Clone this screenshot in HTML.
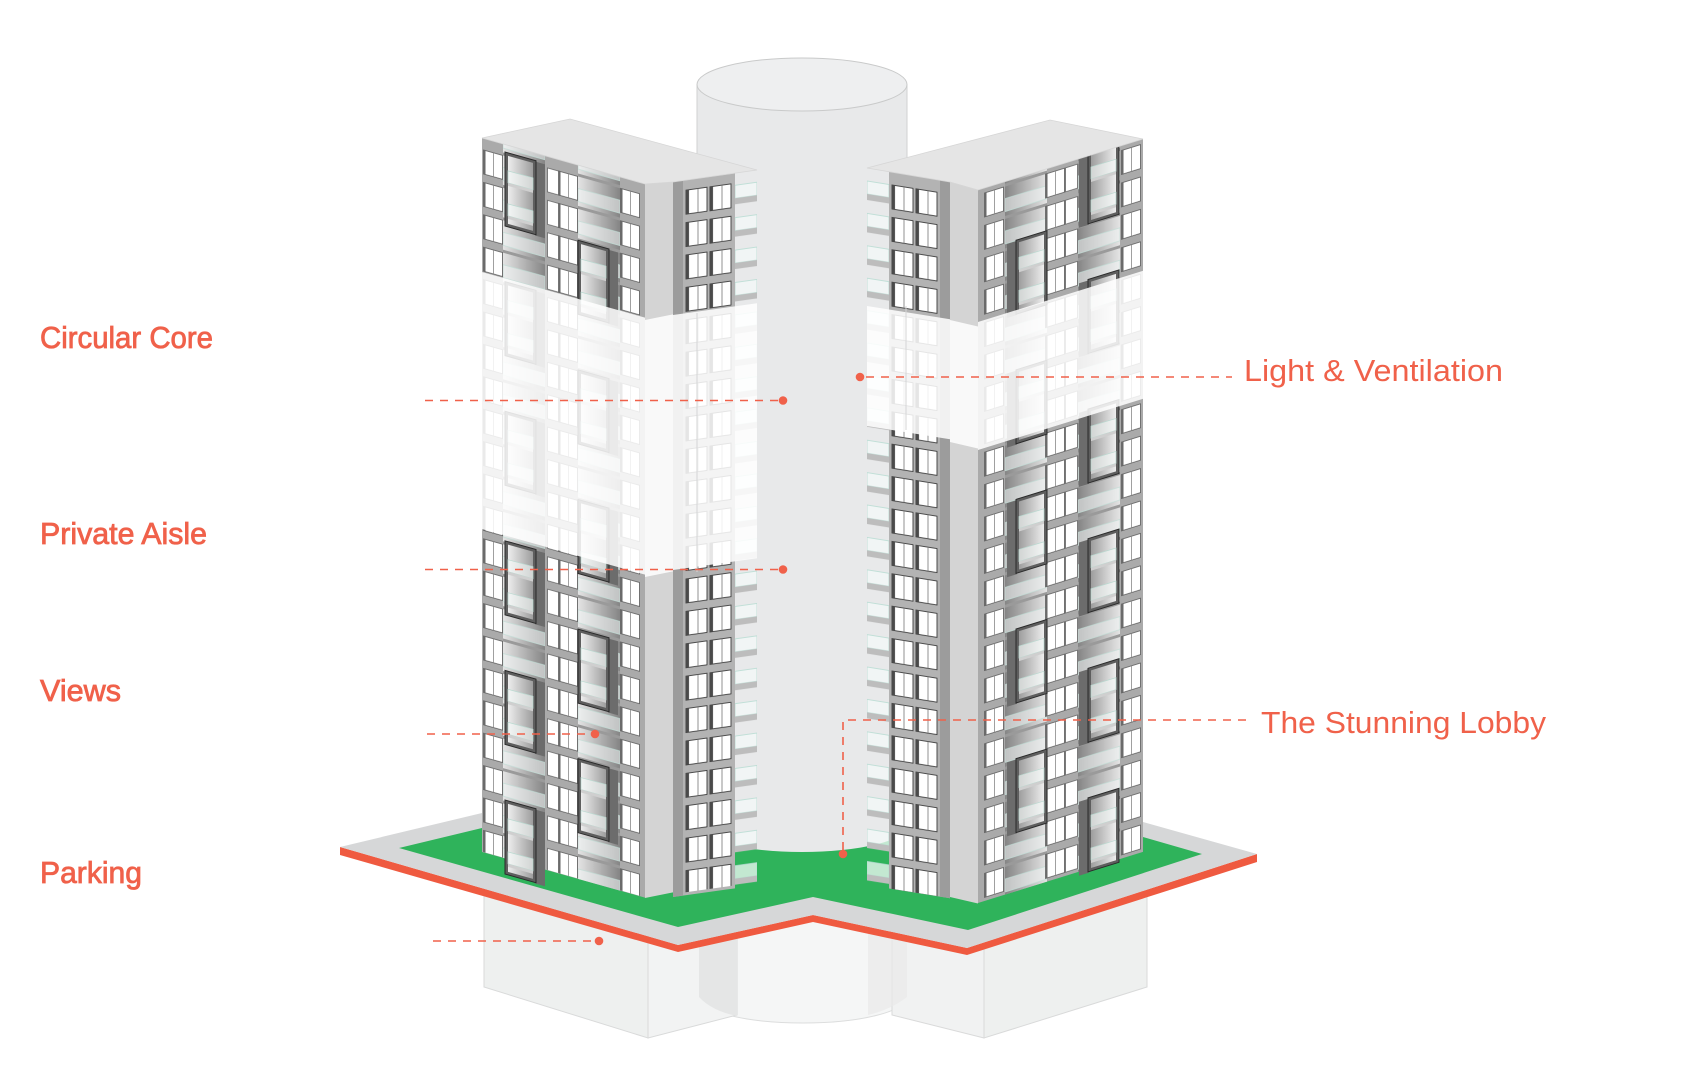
<!DOCTYPE html>
<html>
<head>
<meta charset="utf-8">
<style>
  html, body { margin: 0; padding: 0; background: #ffffff; }
  body { width: 1683px; height: 1080px; overflow: hidden; }
  svg { display: block; }
</style>
</head>
<body>
<svg xmlns="http://www.w3.org/2000/svg" width="1683" height="1080" viewBox="0 0 1683 1080">
  <defs>
    <linearGradient id="gRecL" x1="0" y1="0" x2="1" y2="0">
      <stop offset="0" stop-color="#e4e4e4"/><stop offset="1" stop-color="#858585"/>
    </linearGradient>
    <linearGradient id="gRecR" x1="0" y1="0" x2="1" y2="0">
      <stop offset="0" stop-color="#858585"/><stop offset="1" stop-color="#e4e4e4"/>
    </linearGradient>
    <linearGradient id="gBoxL" x1="0" y1="0" x2="1" y2="0">
      <stop offset="0" stop-color="#f2f2f2"/><stop offset="1" stop-color="#999999"/>
    </linearGradient>
    <linearGradient id="gBoxR" x1="0" y1="0" x2="1" y2="0">
      <stop offset="0" stop-color="#999999"/><stop offset="1" stop-color="#f2f2f2"/>
    </linearGradient>

    <pattern id="pW2" patternUnits="userSpaceOnUse" width="20" height="32.4">
      <rect x="0.5" y="3" width="19" height="24" fill="#ffffff" stroke="#5a5a5a" stroke-width="0.8"/>
      <rect x="0.5" y="3" width="2" height="24" fill="#6a6a6a"/>
      <line x1="10.5" y1="3" x2="10.5" y2="27" stroke="#8a8a8a" stroke-width="0.8"/>
    </pattern>
    <pattern id="pW1" patternUnits="userSpaceOnUse" width="13" height="32.4">
      <rect x="0.5" y="3" width="12" height="24" fill="#ffffff" stroke="#666666" stroke-width="0.8"/>
    </pattern>
    <pattern id="pWC" patternUnits="userSpaceOnUse" width="24" height="32.4">
      <rect x="1" y="3" width="21" height="24" fill="#ffffff" stroke="#3c3c3c" stroke-width="0.9"/>
      <rect x="1" y="3" width="3" height="24" fill="#4a4a4a"/>
      <line x1="13" y1="3" x2="13" y2="27" stroke="#777777" stroke-width="0.8"/>
    </pattern>
    <pattern id="pBal" patternUnits="userSpaceOnUse" width="22" height="32.4">
      <rect x="0" y="9" width="22" height="13" fill="#f4f9f8" fill-opacity="0.75" stroke="#b7dbd2" stroke-width="0.8"/>
      <rect x="0" y="22" width="22" height="6" fill="#bdbdbd"/>
    </pattern>
    <pattern id="pRecL" patternUnits="userSpaceOnUse" width="42" height="32.4">
      <rect width="42" height="32.4" fill="url(#gRecL)"/>
      <rect x="0" y="0" width="42" height="3" fill="#9a9a9a"/>
      <rect x="0" y="15" width="42" height="13" fill="#f1f6f5" fill-opacity="0.55" stroke="#c2ddd6" stroke-width="0.7"/>
    </pattern>
    <pattern id="pRecR" patternUnits="userSpaceOnUse" width="42" height="32.4">
      <rect width="42" height="32.4" fill="url(#gRecR)"/>
      <rect x="0" y="0" width="42" height="3" fill="#9a9a9a"/>
      <rect x="0" y="15" width="42" height="13" fill="#f1f6f5" fill-opacity="0.55" stroke="#c2ddd6" stroke-width="0.7"/>
    </pattern>

    <g id="boxL">
      <rect x="30" y="1" width="10" height="74" fill="#6c6c6c"/>
      <rect x="1.5" y="1.5" width="28" height="71" fill="url(#gBoxL)" stroke="#5e5e5e" stroke-width="3"/>
      <rect x="0" y="0" width="31" height="74" fill="none" stroke="#2a2a2a" stroke-width="1"/>
      <rect x="3" y="18" width="25" height="12" fill="#f5faf8" fill-opacity="0.6" stroke="#b9d9d0" stroke-width="0.7"/>
      <rect x="3" y="30" width="25" height="3" fill="#cfcfcf"/>
      <rect x="3" y="51" width="25" height="12" fill="#f5faf8" fill-opacity="0.6" stroke="#b9d9d0" stroke-width="0.7"/>
      <rect x="3" y="63" width="25" height="3" fill="#cfcfcf"/>
    </g>
    <g id="boxR">
      <rect x="0" y="1" width="10" height="74" fill="#6c6c6c"/>
      <rect x="10.5" y="1.5" width="28" height="71" fill="url(#gBoxR)" stroke="#5e5e5e" stroke-width="3"/>
      <rect x="9" y="0" width="31" height="74" fill="none" stroke="#2a2a2a" stroke-width="1"/>
      <rect x="12" y="18" width="25" height="12" fill="#f5faf8" fill-opacity="0.6" stroke="#b9d9d0" stroke-width="0.7"/>
      <rect x="12" y="30" width="25" height="3" fill="#cfcfcf"/>
      <rect x="12" y="51" width="25" height="12" fill="#f5faf8" fill-opacity="0.6" stroke="#b9d9d0" stroke-width="0.7"/>
      <rect x="12" y="63" width="25" height="3" fill="#cfcfcf"/>
    </g>
  </defs>

  <!-- ===== Lower cylinder (below platform) ===== -->
  <path d="M699,900 L699,997 A104,26 0 0 0 907,997 L907,900 Z" fill="#f5f6f6" stroke="#dcdddd" stroke-width="1"/>

  <!-- ===== Base blocks ===== -->
  <polygon points="484,870 648,918 648,1038 484,987" fill="#eef0ef" stroke="#d9dada" stroke-width="1"/>
  <polygon points="648,918 737,895 737,1015 648,1038" fill="#f2f3f3" stroke="#d9dada" stroke-width="1"/>
  <path d="M699,925 L699,997 Q712,1011 737,1016 L737,925 Z" fill="#e5e6e6"/>
  <polygon points="892,895 984,920 984,1038 892,1015" fill="#f1f2f2" stroke="#d9dada" stroke-width="1"/>
  <polygon points="984,920 1147,870 1147,987 984,1038" fill="#eef0ef" stroke="#d9dada" stroke-width="1"/>
  <path d="M868,925 L868,1015 Q890,1010 907,997 L907,925 Z" fill="#e9eaea" opacity="0.7"/>

  <!-- ===== Platform ===== -->
  <polygon points="340,847 678,945 813,915 967,948 1257,854 1257,862 967,955 813,922 678,952 340,855" fill="#ef5a40"/>
  <polygon points="340,847 482,813 620,780 1000,780 1143,822 1257,854 967,948 813,915 678,945" fill="#d6d7d8"/>
  <polygon points="399,848 482,828 620,800 1000,800 1143,837 1202,854 968,930 813,897 678,927" fill="#2fb35b"/>

  <!-- ===== Upper cylinder ===== -->
  <path d="M697,84.5 L697,826 A105,26 0 0 0 907,826 L907,84.5 Z" fill="#e8e9ea"/>
  <line x1="697" y1="84.5" x2="697" y2="826" stroke="#d0d1d2" stroke-width="1"/>
  <line x1="907" y1="84.5" x2="907" y2="826" stroke="#d0d1d2" stroke-width="1"/>
  <ellipse cx="802" cy="84.5" rx="105" ry="26.5" fill="#eeeff0" stroke="#c9caca" stroke-width="1"/>

  <!-- ===== LEFT TOWER ===== -->
  <g transform="matrix(1,0.28,0,1,0,-134.96)">
    <rect x="482" y="138" width="163" height="714" fill="#aaaaaa"/>
    <g transform="translate(483,146.6)"><rect width="20" height="705" fill="url(#pW2)"/></g>
    <g transform="translate(503,146.6)"><rect y="-8.6" width="42" height="714" fill="url(#pRecL)"/></g>
    <g transform="translate(547,146.6)"><rect width="13" height="705" fill="url(#pW1)"/></g>
    <g transform="translate(558,146.6)"><rect width="20" height="705" fill="url(#pW2)"/></g>
    <g transform="translate(578,146.6)"><rect y="-8.6" width="42" height="714" fill="url(#pRecL)"/></g>
    <g transform="translate(620,146.6)"><rect width="20" height="705" fill="url(#pW2)"/></g>
    <use href="#boxL" x="505" y="145.6"/>
    <use href="#boxL" x="505" y="275.2"/>
    <use href="#boxL" x="505" y="404.8"/>
    <use href="#boxL" x="505" y="534.4"/>
    <use href="#boxL" x="505" y="664"/>
    <use href="#boxL" x="505" y="793.6"/>
    <use href="#boxL" x="578" y="213.4"/>
    <use href="#boxL" x="578" y="343"/>
    <use href="#boxL" x="578" y="472.6"/>
    <use href="#boxL" x="578" y="602.2"/>
    <use href="#boxL" x="578" y="731.8"/>
    <rect x="480" y="272" width="166" height="257" fill="#ffffff" opacity="0.86"/>
  </g>
  <g transform="matrix(1,-0.2,0,1,0,129)">
    <rect x="645" y="184" width="28" height="714" fill="#d4d4d4"/>
    <rect x="645" y="320" width="28" height="257" fill="#ffffff" opacity="0.86"/>
  </g>
  <g transform="matrix(1,-0.14,0,1,0,94.22)">
    <rect x="673" y="182" width="62" height="715" fill="#b3b3b3"/>
    <rect x="673" y="182" width="10" height="715" fill="#9c9c9c"/>
    <g transform="translate(685,189)"><rect width="24" height="705" fill="url(#pWC)"/></g>
    <g transform="translate(709,189)"><rect width="24" height="705" fill="url(#pWC)"/></g>
    <g transform="translate(735,185)"><rect y="-3" width="22" height="712" fill="url(#pBal)"/></g>
    <rect x="673" y="315" width="84" height="255" fill="#ffffff" opacity="0.86"/>
  </g>
  <polygon points="482,138 570,119 757,170 673,182 645,184" fill="#e5e5e5" stroke="#d6d6d6" stroke-width="0.8"/>

  <!-- ===== RIGHT TOWER ===== -->
  <g transform="matrix(1,0.16,0,1,0,-138.72)">
    <rect x="889" y="168" width="61" height="717" fill="#b3b3b3"/>
    <rect x="940" y="168" width="10" height="717" fill="#9c9c9c"/>
    <g transform="translate(867,172)"><rect width="22" height="713" fill="url(#pBal)"/></g>
    <g transform="translate(891,178)"><rect width="24" height="707" fill="url(#pWC)"/></g>
    <g transform="translate(915,178)"><rect width="24" height="707" fill="url(#pWC)"/></g>
    <rect x="867" y="306" width="83" height="120" fill="#ffffff" opacity="0.86"/>
  </g>
  <g transform="matrix(1,0.23,0,1,0,-218.5)">
    <rect x="950" y="182" width="28" height="715" fill="#d4d4d4"/>
    <rect x="950" y="320" width="28" height="122" fill="#ffffff" opacity="0.86"/>
  </g>
  <g transform="matrix(1,-0.31,0,1,0,303.18)">
    <rect x="978" y="190" width="165" height="713" fill="#aaaaaa"/>
    <g transform="translate(984,192)"><rect width="20" height="711" fill="url(#pW2)"/></g>
    <g transform="translate(1005,192)"><rect y="-2" width="42" height="713" fill="url(#pRecR)"/></g>
    <g transform="translate(1045,192)"><rect width="20" height="711" fill="url(#pW2)"/></g>
    <g transform="translate(1065,192)"><rect width="13" height="711" fill="url(#pW1)"/></g>
    <g transform="translate(1078,192)"><rect y="-2" width="42" height="713" fill="url(#pRecR)"/></g>
    <g transform="translate(1121,192)"><rect width="20" height="711" fill="url(#pW2)"/></g>
    <use href="#boxR" x="1007" y="252"/>
    <use href="#boxR" x="1007" y="381.6"/>
    <use href="#boxR" x="1007" y="511.2"/>
    <use href="#boxR" x="1007" y="640.8"/>
    <use href="#boxR" x="1007" y="770.4"/>
    <use href="#boxR" x="1079" y="184"/>
    <use href="#boxR" x="1079" y="313.6"/>
    <use href="#boxR" x="1079" y="443.2"/>
    <use href="#boxR" x="1079" y="572.8"/>
    <use href="#boxR" x="1079" y="702.4"/>
    <use href="#boxR" x="1079" y="832"/>
    <rect x="978" y="322" width="166" height="128" fill="#ffffff" opacity="0.86"/>
  </g>
  <polygon points="867,168 1050,120 1143,139 978,190 950,182" fill="#e5e5e5" stroke="#d6d6d6" stroke-width="0.8"/>

  <line x1="697" y1="313" x2="697" y2="572" stroke="#d4d5d6" stroke-width="1"/>
  <line x1="906" y1="306" x2="906" y2="430" stroke="#d4d5d6" stroke-width="1"/>

  <!-- ===== Leader lines ===== -->
  <g stroke="#f0614a" stroke-width="1.6" stroke-dasharray="8 7" fill="none">
    <path d="M425,400.5 H779"/>
    <path d="M425,569.5 H779"/>
    <path d="M427,734 H591"/>
    <path d="M433,941 H595"/>
    <path d="M866,377 H1232"/>
    <path d="M843,850 V720 H1250"/>
  </g>
  <g fill="#f0614a">
    <circle cx="783" cy="400.5" r="4.3"/>
    <circle cx="783" cy="569.5" r="4.3"/>
    <circle cx="595" cy="734" r="4.3"/>
    <circle cx="599" cy="941" r="4.3"/>
    <circle cx="860" cy="377" r="4.3"/>
    <circle cx="843" cy="854" r="4.3"/>
  </g>

  <!-- ===== Labels ===== -->
  <g font-family="'Liberation Sans', Arial, sans-serif" font-size="31" fill="#f0614a">
    <text x="40" y="348" textLength="173" lengthAdjust="spacingAndGlyphs" stroke="#f0614a" stroke-width="0.8">Circular Core</text>
    <text x="40" y="544" textLength="167" lengthAdjust="spacingAndGlyphs" stroke="#f0614a" stroke-width="0.8">Private Aisle</text>
    <text x="40" y="701" textLength="81" lengthAdjust="spacingAndGlyphs" stroke="#f0614a" stroke-width="0.8">Views</text>
    <text x="40" y="883" textLength="102" lengthAdjust="spacingAndGlyphs" stroke="#f0614a" stroke-width="0.8">Parking</text>
    <text x="1244" y="381" textLength="259" lengthAdjust="spacingAndGlyphs">Light &amp; Ventilation</text>
    <text x="1261" y="733" textLength="285" lengthAdjust="spacingAndGlyphs">The Stunning Lobby</text>
  </g>
</svg>
</body>
</html>
